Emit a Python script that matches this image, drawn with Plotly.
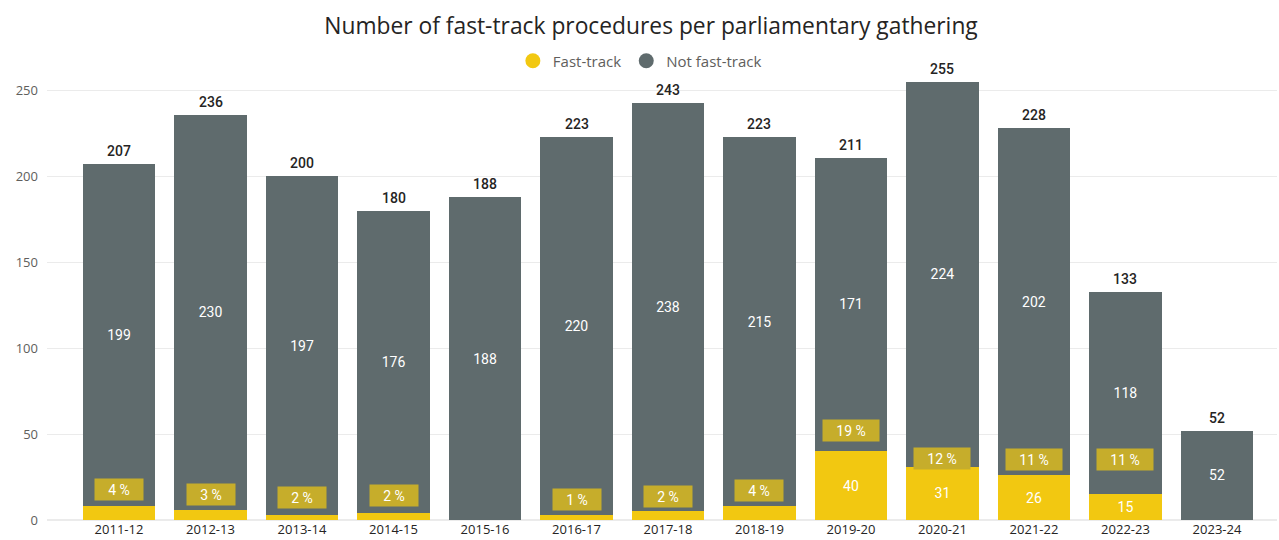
import plotly.graph_objects as go

categories = ["2011-12", "2012-13", "2013-14", "2014-15", "2015-16", "2016-17", "2017-18",
              "2018-19", "2019-20", "2020-21", "2021-22", "2022-23", "2023-24"]
fast_track = [8, 6, 3, 4, 0, 3, 5, 8, 40, 31, 26, 15, 0]
not_fast_track = [199, 230, 197, 176, 188, 220, 238, 215, 171, 224, 202, 118, 52]
totals = [207, 236, 200, 180, 188, 223, 243, 223, 211, 255, 228, 133, 52]
pct_labels = ["4 %", "3 %", "2 %", "2 %", "", "1 %", "2 %", "4 %", "19 %", "12 %", "11 %", "11 %", ""]
pct_label_y = [18, 15, 13, 14, None, 12, 13.5, 17, 52, 36, 35, 35, None]

YELLOW = "#F2C811"
GRAY = "#5F6B6D"
LABEL_FONT = "Roboto"

fig = go.Figure()
fig.add_trace(go.Bar(
    x=categories, y=fast_track, name="Fast-track", marker_color=YELLOW, showlegend=False,
    marker_line_width=0,
    text=[str(v) if v >= 10 else "" for v in fast_track],
    textposition="inside", insidetextanchor="middle", textangle=0,
    textfont=dict(color="white", size=14, family=LABEL_FONT),
))
fig.add_trace(go.Bar(
    x=categories, y=not_fast_track, name="Not fast-track", marker_color=GRAY, showlegend=False,
    marker_line_width=0,
    text=[str(v) for v in not_fast_track],
    textposition="inside", insidetextanchor="middle", textangle=0,
    textfont=dict(color="white", size=14, family=LABEL_FONT),
))
# legend entries with circle markers
for name, col in [("Fast-track", YELLOW), ("Not fast-track", GRAY)]:
    fig.add_trace(go.Scatter(x=[categories[0]], y=[None], mode="markers", name=name,
                             marker=dict(color=col, size=15, symbol="circle"),
                             hoverinfo="skip"))

annotations = []
for c, t in zip(categories, totals):
    annotations.append(dict(x=c, y=t, text=str(t), showarrow=False, yanchor="bottom",
                            yshift=3, font=dict(color="#252423", size=14, family=LABEL_FONT,
                                                weight=500)))
for c, p, py in zip(categories, pct_labels, pct_label_y):
    if p and py is not None:
        annotations.append(dict(x=c, y=py, text=p, showarrow=False, yanchor="middle",
                                bgcolor="#C6AD2B", width=(46 if len(p) <= 3 else 54), height=19,
                                borderpad=1,
                                font=dict(color="white", size=14, family=LABEL_FONT)))

fig.update_layout(
    barmode="stack",
    bargap=0.21,
    width=1279, height=540,
    margin=dict(l=47, r=2, t=70, b=20, autoexpand=False),
    paper_bgcolor="white", plot_bgcolor="white",
    title=dict(text="Number of fast-track procedures per parliamentary gathering",
               x=0.509, xanchor="center", y=0.951, yanchor="middle",
               font=dict(family="Open Sans", size=22.8, color="#252423")),
    legend=dict(orientation="h", x=0.482, xanchor="center", y=1.02, yanchor="middle",
                font=dict(family="Open Sans", size=15, color="#605E5C"),
                itemsizing="trace", traceorder="normal", itemwidth=30),
    annotations=annotations,
    font=dict(family="Open Sans"),
)
fig.update_xaxes(type="category", range=[-0.787, 12.656], showgrid=False, showline=False,
                 ticks="", automargin=False,
                 tickfont=dict(family="Open Sans", size=13, color="#252423"))
fig.update_yaxes(range=[0, 262], tickvals=[0, 50, 100, 150, 200, 250], showgrid=True,
                 gridcolor="#EBEBEB", zeroline=True, zerolinecolor="#EBEBEB",
                 automargin=False, ticklabelstandoff=8,
                 tickfont=dict(family="Open Sans", size=13, color="#605E5C"))

fig.write_html("out.html", config={"displayModeBar": False},
               post_script="document.body.style.margin='0';document.body.style.overflow='hidden';")
